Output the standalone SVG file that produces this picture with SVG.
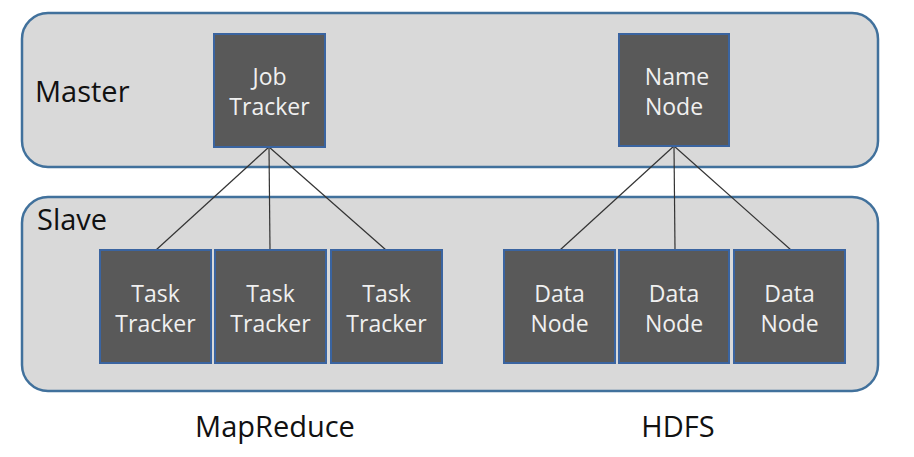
<svg xmlns="http://www.w3.org/2000/svg" width="914" height="457" viewBox="0 0 914 457">
<style>
.panel{fill:#d9d9d9;stroke:#41719c;stroke-width:2.5}
.box{fill:#595959;stroke:#3a64a0;stroke-width:2}
.lbl{font-family:"Open Sans","Noto Sans","Liberation Sans",sans-serif;font-size:23px;fill:#f0f0f0;text-anchor:middle}
.big{font-family:"Open Sans","Noto Sans","Liberation Sans",sans-serif;font-size:29px;fill:#111}
.conn{stroke:#333;stroke-width:1.2;fill:none}
</style>
<rect width="914" height="457" fill="#ffffff"/>
<g id="master-panel"><rect class="panel" x="22" y="13" width="856" height="154" rx="26"/><text class="big" x="35" y="102">Master</text></g>
<g id="slave-panel"><rect class="panel" x="22" y="197" width="856" height="194" rx="26"/><text class="big" x="37" y="230">Slave</text></g>
<g id="connectors">
<line class="conn" x1="269" y1="147" x2="156" y2="250"/>
<line class="conn" x1="269" y1="147" x2="270" y2="250"/>
<line class="conn" x1="269" y1="147" x2="386" y2="250"/>
<line class="conn" x1="674" y1="146" x2="560" y2="250"/>
<line class="conn" x1="674" y1="146" x2="675" y2="250"/>
<line class="conn" x1="674" y1="146" x2="791" y2="250"/>
</g>
<g id="job-tracker"><rect class="box" x="214" y="34" width="111" height="113"/><text class="lbl" x="269.5" y="85">Job</text><text class="lbl" x="269.5" y="115">Tracker</text></g>
<g id="name-node"><rect class="box" x="619" y="34" width="110" height="112"/><text class="lbl" x="677" y="85">Name</text><text class="lbl" x="674" y="115">Node</text></g>
<g id="task-tracker-1"><rect class="box" x="100" y="250" width="111" height="113"/><text class="lbl" x="155.5" y="302">Task</text><text class="lbl" x="155.5" y="332">Tracker</text></g>
<g id="task-tracker-2"><rect class="box" x="215" y="250" width="111" height="113"/><text class="lbl" x="270.5" y="302">Task</text><text class="lbl" x="270.5" y="332">Tracker</text></g>
<g id="task-tracker-3"><rect class="box" x="331" y="250" width="111" height="113"/><text class="lbl" x="386.5" y="302">Task</text><text class="lbl" x="386.5" y="332">Tracker</text></g>
<g id="data-node-1"><rect class="box" x="504" y="250" width="111" height="113"/><text class="lbl" x="559.5" y="302">Data</text><text class="lbl" x="559.5" y="332">Node</text></g>
<g id="data-node-2"><rect class="box" x="619" y="250" width="110" height="113"/><text class="lbl" x="674" y="302">Data</text><text class="lbl" x="674" y="332">Node</text></g>
<g id="data-node-3"><rect class="box" x="734" y="250" width="111" height="113"/><text class="lbl" x="789.5" y="302">Data</text><text class="lbl" x="789.5" y="332">Node</text></g>
<text class="big" x="275" y="437" text-anchor="middle">MapReduce</text>
<text class="big" x="678" y="437" text-anchor="middle">HDFS</text>
</svg>
